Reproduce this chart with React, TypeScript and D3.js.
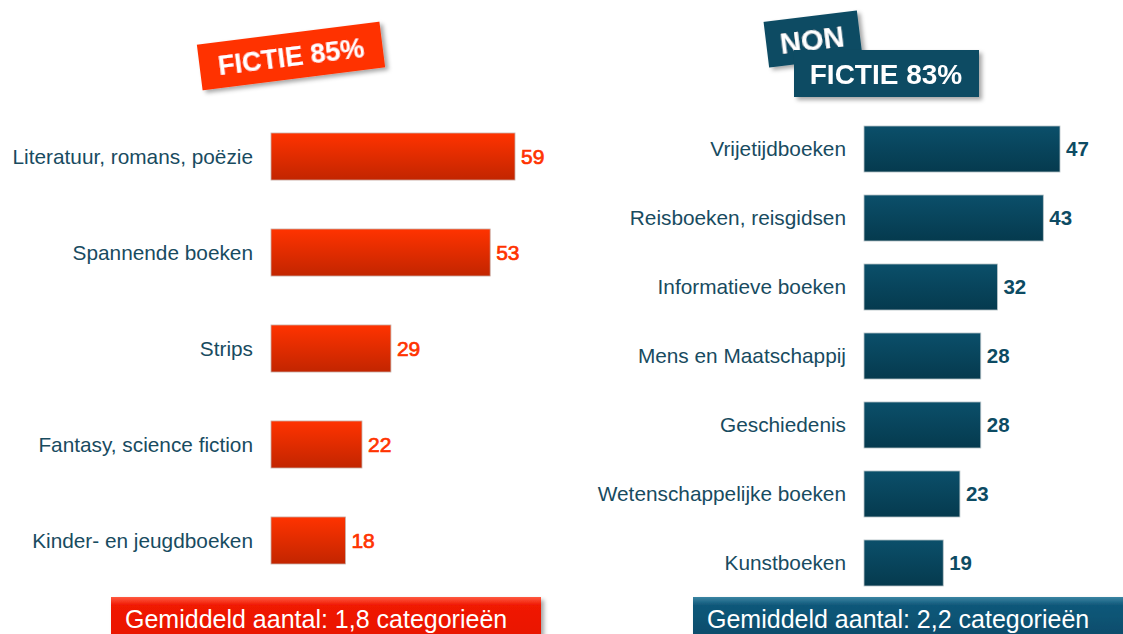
import * as d3 from "d3";
import React from "react";

const fictionCategories = [
  "Literatuur, romans, poëzie",
  "Spannende boeken",
  "Strips",
  "Fantasy, science fiction",
  "Kinder- en jeugdboeken",
];
const fictionValues = [59, 53, 29, 22, 18];

const nonFictionCategories = [
  "Vrijetijdboeken",
  "Reisboeken, reisgidsen",
  "Informatieve boeken",
  "Mens en Maatschappij",
  "Geschiedenis",
  "Wetenschappelijke boeken",
  "Kunstboeken",
];
const nonFictionValues = [47, 43, 32, 28, 28, 23, 19];

const fictionTitle = "FICTIE 85%";
const nonTitleTop = "NON";
const nonTitleBottom = "FICTIE 83%";
const fictionAverage = "Gemiddeld aantal: 1,8 categorieën";
const nonFictionAverage = "Gemiddeld aantal: 2,2 categorieën";

const width = 1123;
const height = 634;
const font = "'Liberation Sans', Arial, sans-serif";
const labelColor = "#184b5f";
const red = "#ff3300";
const teal = "#0d4b63";

export default function App() {
  const xLeft = d3.scaleLinear().domain([0, 59]).range([271, 515]);
  const yLeft = d3.scaleBand<string>()
    .domain(fictionCategories)
    .range([133, 564])
    .paddingInner(0.51)
    .paddingOuter(0);

  const xRight = d3.scaleLinear().domain([0, 47]).range([864, 1060]);
  const yRight = d3.scaleBand<string>()
    .domain(nonFictionCategories)
    .range([126, 586])
    .paddingInner(0.333)
    .paddingOuter(0);

  const left = fictionCategories.map((c, i) => ({ c, v: fictionValues[i] }));
  const right = nonFictionCategories.map((c, i) => ({ c, v: nonFictionValues[i] }));

  return (
    <svg
      width={width}
      height={height}
      style={{ position: "absolute", left: 0, top: 0, background: "#fff" }}
      fontFamily={font}
    >
      <defs>
        <linearGradient id="redBar" x1="0" y1="0" x2="0" y2="1">
          <stop offset="0%" stopColor="#ff3300" />
          <stop offset="100%" stopColor="#c22500" />
        </linearGradient>
        <linearGradient id="tealBar" x1="0" y1="0" x2="0" y2="1">
          <stop offset="0%" stopColor="#0b4f6a" />
          <stop offset="100%" stopColor="#053a4e" />
        </linearGradient>
        <linearGradient id="redBox" x1="0" y1="0" x2="0" y2="1">
          <stop offset="0%" stopColor="#ff5a40" />
          <stop offset="18%" stopColor="#f01a05" />
          <stop offset="100%" stopColor="#e81400" />
        </linearGradient>
        <linearGradient id="tealBox" x1="0" y1="0" x2="0" y2="1">
          <stop offset="0%" stopColor="#3b85a3" />
          <stop offset="18%" stopColor="#11587a" />
          <stop offset="100%" stopColor="#0a4a68" />
        </linearGradient>
        <filter id="shadow" x="-10%" y="-20%" width="130%" height="160%">
          <feDropShadow dx="3" dy="3" stdDeviation="2" floodColor="#000" floodOpacity="0.35" />
        </filter>
      </defs>

      {/* title boxes */}
      <g transform="translate(291,56) rotate(-7.2)" filter="url(#shadow)">
        <rect x={-92} y={-23} width={184} height={46} fill={red} />
        <text x={0} y={10} textAnchor="middle" fill="#fff" fontSize={27} fontWeight="bold">
          {fictionTitle}
        </text>
      </g>
      <g transform="translate(813,39) rotate(-7)" filter="url(#shadow)">
        <rect x={-47} y={-23} width={94} height={46} fill={teal} />
        <text x={-1} y={11} textAnchor="middle" fill="#fff" fontSize={29} fontWeight="bold">
          {nonTitleTop}
        </text>
      </g>
      <g filter="url(#shadow)">
        <rect x={794} y={50} width={185} height={47} fill={teal} />
        <text x={886} y={84} textAnchor="middle" fill="#fff" fontSize={28} fontWeight="bold">
          {nonTitleBottom}
        </text>
      </g>

      {/* fiction bars */}
      {left.map(d => (
        <g key={d.c}>
          <text
            x={253}
            y={yLeft(d.c)! + yLeft.bandwidth() / 2}
            dy="0.35em"
            textAnchor="end"
            fontSize={20.8}
            fill={labelColor}
          >
            {d.c}
          </text>
          <rect
            x={xLeft(0)}
            y={yLeft(d.c)}
            width={xLeft(d.v) - xLeft(0)}
            height={yLeft.bandwidth()}
            fill="url(#redBar)"
            stroke="#c8b0a8"
            strokeWidth={0.8}
          />
          <text
            x={xLeft(d.v) + 6}
            y={yLeft(d.c)! + yLeft.bandwidth() / 2}
            dy="0.35em"
            fontSize={21}
            fill={red}
            stroke={red}
            strokeWidth={0.7}
          >
            {d.v}
          </text>
        </g>
      ))}

      {/* non-fiction bars */}
      {right.map(d => (
        <g key={d.c}>
          <text
            x={846}
            y={yRight(d.c)! + yRight.bandwidth() / 2}
            dy="0.35em"
            textAnchor="end"
            fontSize={20.8}
            fill={labelColor}
          >
            {d.c}
          </text>
          <rect
            x={xRight(0)}
            y={yRight(d.c)}
            width={xRight(d.v) - xRight(0)}
            height={yRight.bandwidth()}
            fill="url(#tealBar)"
            stroke="#b8c4c8"
            strokeWidth={0.8}
          />
          <text
            x={xRight(d.v) + 6}
            y={yRight(d.c)! + yRight.bandwidth() / 2}
            dy="0.35em"
            fontSize={20.5}
            fontWeight="bold"
            fill={teal}
          >
            {d.v}
          </text>
        </g>
      ))}

      {/* averages */}
      <g filter="url(#shadow)">
        <rect x={111} y={597} width={430} height={45} fill="url(#redBox)" />
      </g>
      <text x={125} y={628} fill="#fff" fontSize={25}>
        {fictionAverage}
      </text>
      <g filter="url(#shadow)">
        <rect x={693} y={597} width={440} height={45} fill="url(#tealBox)" />
      </g>
      <text x={707} y={628} fill="#fff" fontSize={25}>
        {nonFictionAverage}
      </text>
    </svg>
  );
}
